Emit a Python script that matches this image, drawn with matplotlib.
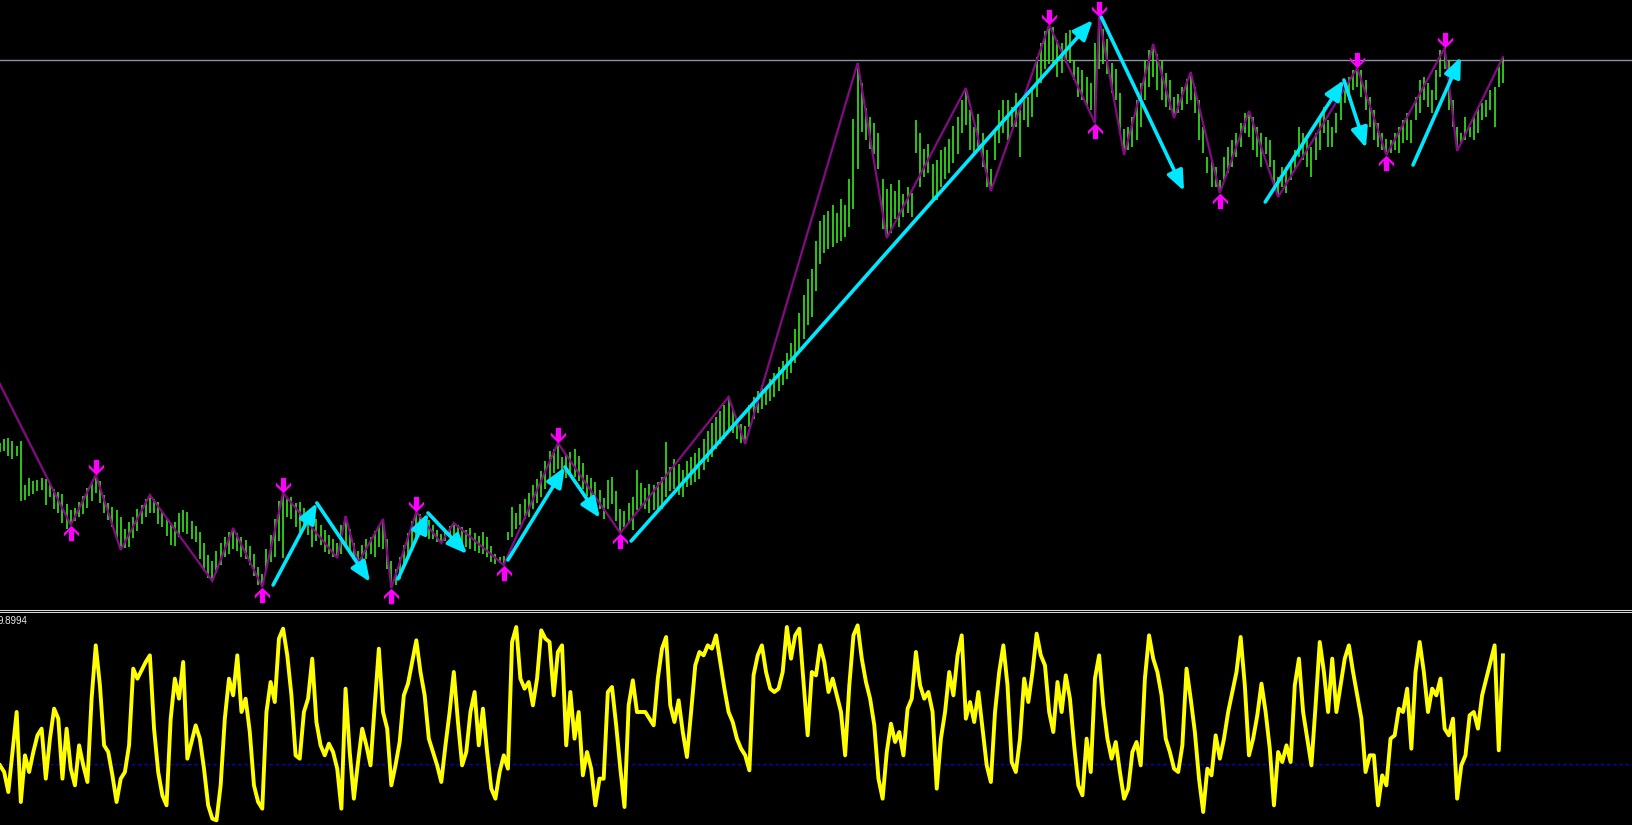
import numpy as np
import matplotlib
matplotlib.use("Agg")
import matplotlib.pyplot as plt
from matplotlib.path import Path
from matplotlib.transforms import offset_copy
from matplotlib.lines import Line2D

W, H, DPI = 1632, 825, 100

# ---------------- data ----------------
bar_high = [
    166,170,171,168,163,168,124,131,128,129, 131,130,126,120,117,115,105,99,101,107,
    113,121,127,134,128,114,106,102,99,92, 80,87,92,100,104,110,114,110,107,97,
    90,84,87,96,99,97,88,83,77,66, 54,48,58,66,72,77,81,76,72,69,
    63,55,42,35,60,74,90,108,116,110, 112,106,107,101,97,93,90,84,79,74,
    70,66,84,93,80,66,58,64,70,72, 78,84,90,70,48,40,52,64,76,88,
    97,95,92,89,84,79,75,80,83,86, 84,82,79,81,76,73,77,72,63,55,
    52,53,77,102,96,105,110,116,124,130, 138,148,158,160,166,152,155,157,160,153,
    146,134,131,127,119,111,129,132,118,100, 98,106,112,139,126,121,125,124,127,132,
    167,142,150,145,139,148,152,156,161,170, 178,186,192,198,204,212,200,190,185,183,
    204,212,218,224,222,230,236,242,248,256, 266,280,296,314,330,340,368,388,394,398,
    404,396,410,404,430,490,546,526,501,492, 486,476,430,420,425,418,429,415,422,416,
    489,476,460,465,445,449,459,462,470,483, 492,509,521,499,482,495,476,459,440,479,
    499,509,509,502,516,499,509,512,522,552, 566,578,584,582,569,566,576,579,549,542,
    539,532,526,566,592,580,570,546,540,516, 480,482,492,509,526,549,559,565,555,549,
    536,529,512,515,522,530,537,522,509,482, 452,449,442,429,452,462,469,476,486,496,
    498,492,482,476,472,469,449,432,442,442, 446,459,482,476,469,462,476,492,502,489,
    482,496,516,529,532,539,541,539,529,512, 499,486,476,470,469,476,482,489,496,489,
    512,529,532,526,519,539,559,561,549,509, 482,476,492,482,492,502,506,509,519,522,
    542,552,
]
bar_low = [
    157,158,153,150,153,108,109,113,115,118, 119,104,112,100,96,86,80,84,88,92,
    95,101,108,116,106,96,89,82,70,59, 61,62,71,78,85,92,96,96,85,82,
    73,64,63,72,77,75,70,67,50,38, 31,28,36,44,52,55,60,58,52,50,
    44,33,24,22,40,47,52,68,51,92, 90,82,72,80,74,62,68,64,57,55,
    52,51,55,62,56,50,46,48,50,55, 52,62,60,40,21,24,30,42,52,62,
    71,78,74,70,70,67,66,68,71,70, 68,64,62,60,58,56,55,52,47,45,
    46,44,69,72,80,84,90,92,100,106, 112,120,128,136,140,135,131,133,132,128,
    120,113,108,99,100,90,100,105,88,76, 82,86,79,99,102,100,96,99,98,100,
    112,118,120,114,112,122,124,127,130,139, 147,152,160,165,170,178,176,170,166,165,
    182,190,196,200,204,208,212,218,224,230, 236,246,256,270,284,292,318,345,356,360,
    362,366,368,372,382,400,440,477,469,460, 455,440,380,371,376,390,382,392,396,392,
    456,422,432,436,410,409,422,430,436,446, 455,476,484,459,456,462,442,422,418,449,
    466,476,469,482,482,452,489,482,492,512, 526,540,545,542,532,536,546,546,529,512,
    509,502,499,486,540,545,535,516,509,476, 454,459,462,469,482,509,522,532,519,509,
    502,499,491,496,499,505,509,496,469,456, 436,422,422,416,429,436,442,452,462,476,
    472,459,452,442,455,442,422,412,422,416, 429,439,452,449,442,432,449,459,476,462,
    462,476,489,506,509,519,522,512,499,482, 469,462,459,454,456,459,456,466,469,466,
    489,496,509,502,496,509,532,540,499,482, 458,466,469,472,469,476,489,492,499,482,
    522,526,
]
osc = [
    -5,-25,-85,35,155,-115,25,-25,35,85, 105,-45,75,165,135,-45,105,-15,-65,55,
    -5,-55,195,355,235,55,35,-35,-115,-45, -25,55,285,255,280,305,325,105,-25,-95,
    -125,135,255,195,305,15,65,115,75,-15, -125,-165,-170,-65,135,255,205,325,155,195,
    95,-65,-115,-135,155,245,185,375,405,325, 205,25,15,155,195,315,125,55,25,60,
    35,-15,-135,225,35,-105,5,105,55,-5, 175,345,155,105,-65,-5,65,205,240,305,
    370,275,205,75,35,-5,-55,55,155,275, 125,-5,35,155,215,55,165,35,-75,-105,
    -25,25,-15,365,410,255,225,245,175,255, 400,375,365,205,335,355,55,215,75,155,
    -35,35,-15,-125,-45,-45,215,230,115,-15, -130,175,250,155,155,155,135,115,255,345,
    380,175,125,190,95,20,155,295,335,325, 355,345,385,305,225,155,125,75,45,25,
    -20,265,325,355,275,225,215,225,275,410, 315,385,405,245,85,275,265,355,305,215,
    255,205,155,25,235,385,415,315,245,195, 115,-45,-105,35,120,65,95,25,165,195,
    335,235,195,215,155,-75,75,155,275,205, 325,385,135,185,125,215,105,-5,-55,155,
    275,355,235,5,-25,75,255,185,275,390, 325,295,155,95,245,155,265,195,55,-65,
    -95,75,-25,255,325,175,75,15,65,-25, -105,-75,35,65,-5,255,385,315,275,205,
    75,35,-15,-25,55,285,195,95,-45,-145, -15,-35,85,15,75,155,215,275,380,235,
    25,75,145,240,155,45,-125,35,5,55, 5,235,315,155,75,-5,175,365,275,155,
    315,155,235,315,355,275,205,135,-25,25, 25,-125,-35,-65,75,85,165,155,225,45,
    275,365,275,155,225,205,255,105,85,135, -105,-5,25,145,155,105,205,255,305,355,
    40,325,
]
zz_idx = [-8, 17, 23, 29, 36, 51, 56, 63, 68, 81, 83, 86, 92, 94, 100, 106, 109, 121,
          134, 149, 175, 179, 206, 213, 232, 238, 252, 263, 264, 270, 277, 282, 286,
          293, 300, 307, 326, 333, 347, 350, 361]
zz_val = [291, 84, 134, 59, 114, 28, 81, 22, 116, 51, 93, 46, 90, 21, 97, 66, 86, 44,
          166, 76, 212, 165, 546, 371, 521, 418, 584, 486, 592, 454, 565, 491, 537,
          416, 498, 412, 541, 454, 561, 458, 552]
sig_up_idx = [17, 63, 94, 121, 149, 263, 293, 333]
sig_dn_idx = [23, 68, 100, 134, 252, 264, 326, 347]
arrow_x0 = [65.6, 76.1, 95.6, 102.8, 122.0, 135.7, 151.6, 264.5, 303.9, 322.8, 339.4]
arrow_y0 = [24, 106, 30, 96, 49, 142, 68, 592, 407, 529, 444]
arrow_x1 = [76.1, 88.9, 102.8, 112.2, 135.7, 144.1, 262.5, 284.4, 322.8, 328.1, 350.9]
arrow_y1 = [106, 27, 96, 55, 142, 91, 589, 418, 529, 461, 552]
level_price = 549
osc_level = 0
osc_label = "9.8994"

# ---------------- layout ----------------
MAIN_BOTTOM_PX = 609
SUB_TOP_PX = 613
X_SLOTS = 392

fig = plt.figure(figsize=(W / DPI, H / DPI), dpi=DPI, facecolor="black")
ax = fig.add_axes([0, 1 - MAIN_BOTTOM_PX / H, 1, MAIN_BOTTOM_PX / H])
ax2 = fig.add_axes([0, 0, 1, (H - SUB_TOP_PX) / H])
for a in (ax, ax2):
    a.set_axis_off()
    a.set_xlim(0, X_SLOTS)
ax.set_ylim(0, 609)
ax2.set_ylim(-184, 452)

x = np.arange(len(bar_high))
GREEN = "#36e61c"
CYAN = "#00e8ff"
MAGENTA = "#ff00ff"
PURPLE = "#850a85"

ax.axhline(level_price, color="#8a94a6", lw=1.0, zorder=1)
ax.vlines(x, bar_low, bar_high, colors=GREEN, lw=1.2, zorder=2)
ax.plot(zz_idx, zz_val, color=PURPLE, lw=1.6, zorder=3, solid_joinstyle="miter")

for x0, y0, x1, y1 in zip(arrow_x0, arrow_y0, arrow_x1, arrow_y1):
    ax.annotate("", xy=(x1, y1), xytext=(x0, y0),
                arrowprops=dict(arrowstyle="-|>,head_length=1.2,head_width=0.5",
                                color=CYAN, lw=2.6, shrinkA=0, shrinkB=0),
                annotation_clip=False, zorder=4)

up_verts = [(0, 1), (1, 0.05), (1, -0.4), (0.34, 0.3), (0.34, -1), (-0.34, -1),
            (-0.34, 0.3), (-1, -0.4), (-1, 0.05), (0, 1)]
codes = [Path.MOVETO] + [Path.LINETO] * (len(up_verts) - 2) + [Path.CLOSEPOLY]
up_marker = Path(up_verts, codes)
dn_marker = Path([(vx, -vy) for vx, vy in up_verts], codes)

tr_up = offset_copy(ax.transData, fig=fig, y=-5.5, units="points")
tr_dn = offset_copy(ax.transData, fig=fig, y=5.5, units="points")
ax.plot(sig_up_idx, [bar_low[i] for i in sig_up_idx], linestyle="none",
        marker=up_marker, markersize=11, color=MAGENTA, markeredgewidth=0,
        transform=tr_up, zorder=5)
ax.plot(sig_dn_idx, [bar_high[i] for i in sig_dn_idx], linestyle="none",
        marker=dn_marker, markersize=11, color=MAGENTA, markeredgewidth=0,
        transform=tr_dn, zorder=5)

# separator between windows
for ypx in (609.5, 611.5):
    fig.add_artist(Line2D([0, 1], [1 - ypx / H] * 2, transform=fig.transFigure,
                          color="#d8d8d8", lw=0.75))

# oscillator window
ax2.axhline(osc_level, color="#0000d0", lw=0.9, linestyle=(0, (3, 2)), zorder=1)
ax2.plot(np.arange(len(osc)), osc, color="#ffff00", lw=2.8,
         solid_joinstyle="round", zorder=2)
fig.text(-2 / W, 1 - 621 / H, osc_label, color="#e8e8e8", fontsize=7,
         family="Liberation Sans", va="center", ha="left")

fig.savefig("out.png", dpi=DPI, facecolor="black")
